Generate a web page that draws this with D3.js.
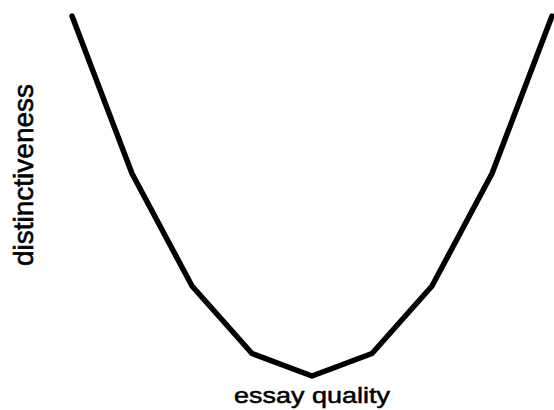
<!DOCTYPE html>
<html>
<head>
<meta charset="utf-8">
<script src="https://cdn.jsdelivr.net/npm/d3@7"></script>
<style>
  html, body { margin: 0; padding: 0; background: #fff; }
  svg { display: block; }
  text { font-family: "Liberation Sans", Arial, sans-serif; fill: #000; stroke: #000; stroke-width: 0.6px; }
</style>
</head>
<body>
<svg id="chart" width="554" height="410"></svg>
<script>
// Essay quality (centred) against distinctiveness
const quality = [-4, -3, -2, -1, 0, 1, 2, 3, 4];
const distinctiveness = [16, 9, 4, 1, 0, 1, 4, 9, 16];
const xLabel = "essay quality";
const yLabel = "distinctiveness";

const svg = d3.select("#chart");

const x = d3.scaleLinear().domain([-4, 4]).range([72, 552]);
const y = d3.scaleLinear().domain([0, 16]).range([376, 16]);

const line = d3.line()
  .x((d, i) => x(quality[i]))
  .y(d => y(d));

svg.append("path")
  .datum(distinctiveness)
  .attr("d", line)
  .attr("fill", "none")
  .attr("stroke", "#000")
  .attr("stroke-width", 5.5)
  .attr("stroke-linejoin", "round")
  .attr("stroke-linecap", "round");

svg.append("text")
  .attr("transform", "translate(312,403) scale(1,0.85)")
  .attr("text-anchor", "middle")
  .attr("font-size", 27)
  .text(xLabel);

svg.append("text")
  .attr("transform", "translate(33,175) rotate(-90)")
  .attr("text-anchor", "middle")
  .attr("font-size", 28)
  .text(yLabel);
</script>
</body>
</html>
